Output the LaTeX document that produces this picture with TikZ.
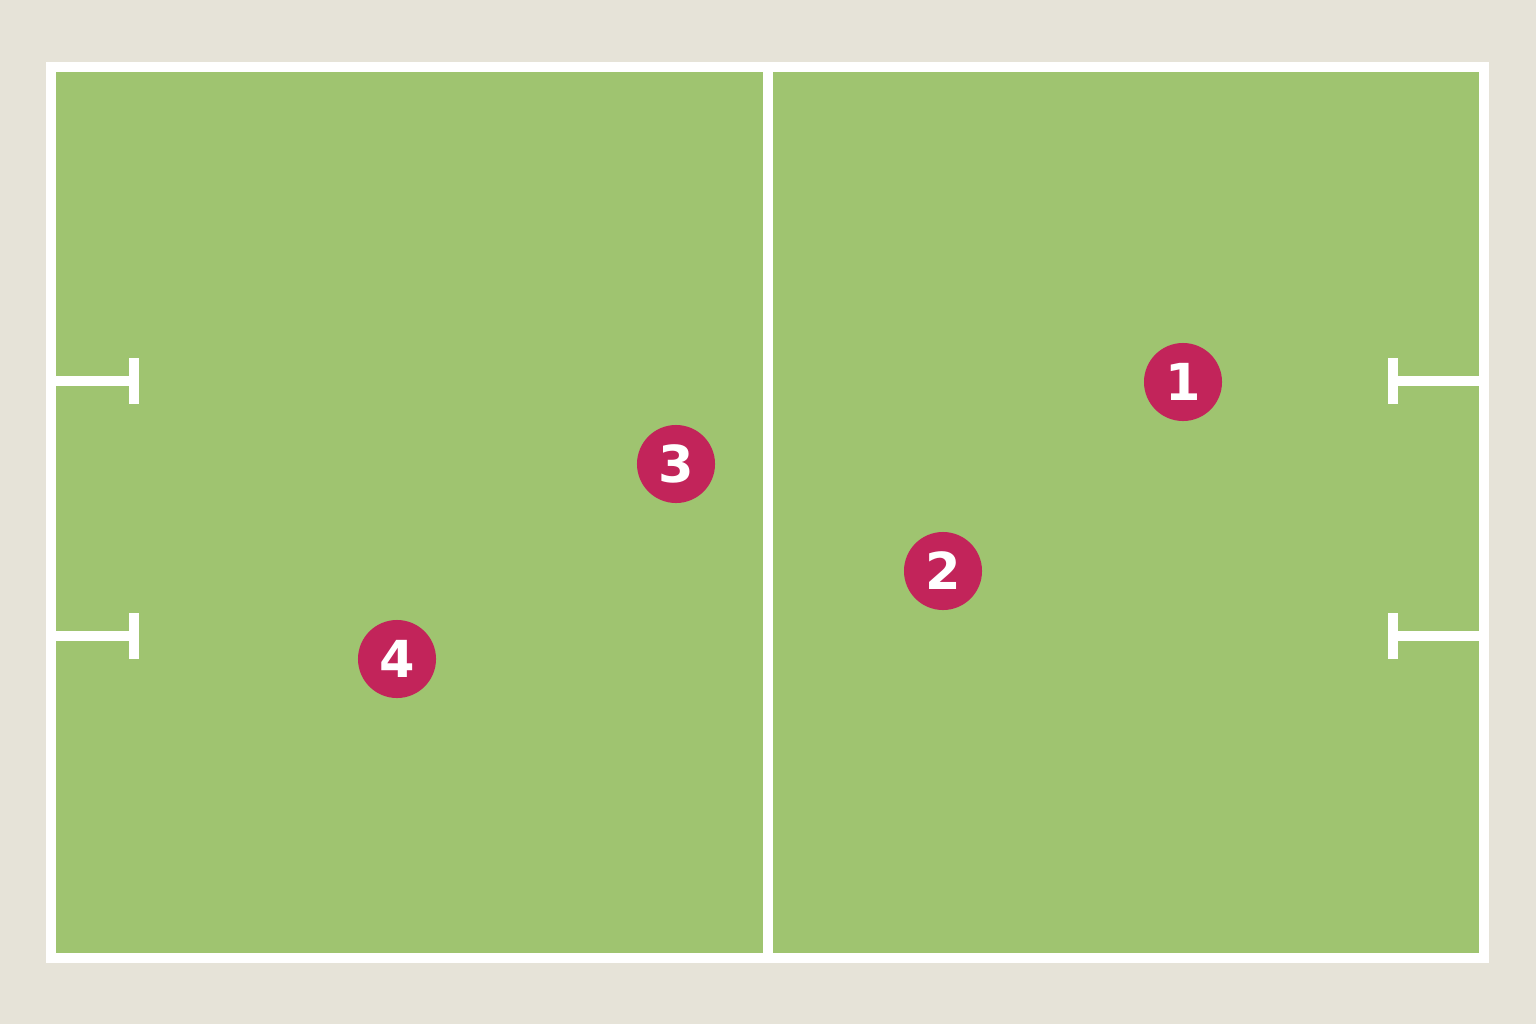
\documentclass[tikz,border=0pt]{standalone}
\usepackage{fontspec}
\setmainfont{DejaVu Sans}
\usetikzlibrary{calc}
\definecolor{bgsand}{HTML}{E6E3D8}
\definecolor{turf}{HTML}{9FC470}
\definecolor{crimson}{HTML}{C2245A}
\begin{document}
\begin{tikzpicture}[x=0.01cm,y=-0.01cm,
    chalk/.style={draw=white,line width=0.1cm},
    player/.style={circle,fill=crimson,minimum size=0.78cm,inner sep=0pt,text=white,font=\fontsize{14.5}{14.5}\selectfont\bfseries}]
    \fill [bgsand] (0,0) rectangle (1536,1024);
    \useasboundingbox (0,0) rectangle (1536,1024);
    % pitch
    \filldraw [fill=turf,chalk] (51,67) rectangle (1484,958);
    \draw [chalk] (768,67) -- (768,958);
    % goal markers
    \foreach \y in {381,636} {
      \draw [chalk] (56,\y) -- (134,\y);
      \draw [chalk] (134,\y-23) -- (134,\y+23);
      \draw [chalk] (1479,\y) -- (1393,\y);
      \draw [chalk] (1393,\y-23) -- (1393,\y+23);
    }
    % players
    \node [player] (p1) at (1183,382) {1};
    \node [player] (p2) at (943,571) {2};
    \node [player] (p3) at (676,464) {3};
    \node [player] (p4) at (397,659) {4};
\end{tikzpicture}
\end{document}
